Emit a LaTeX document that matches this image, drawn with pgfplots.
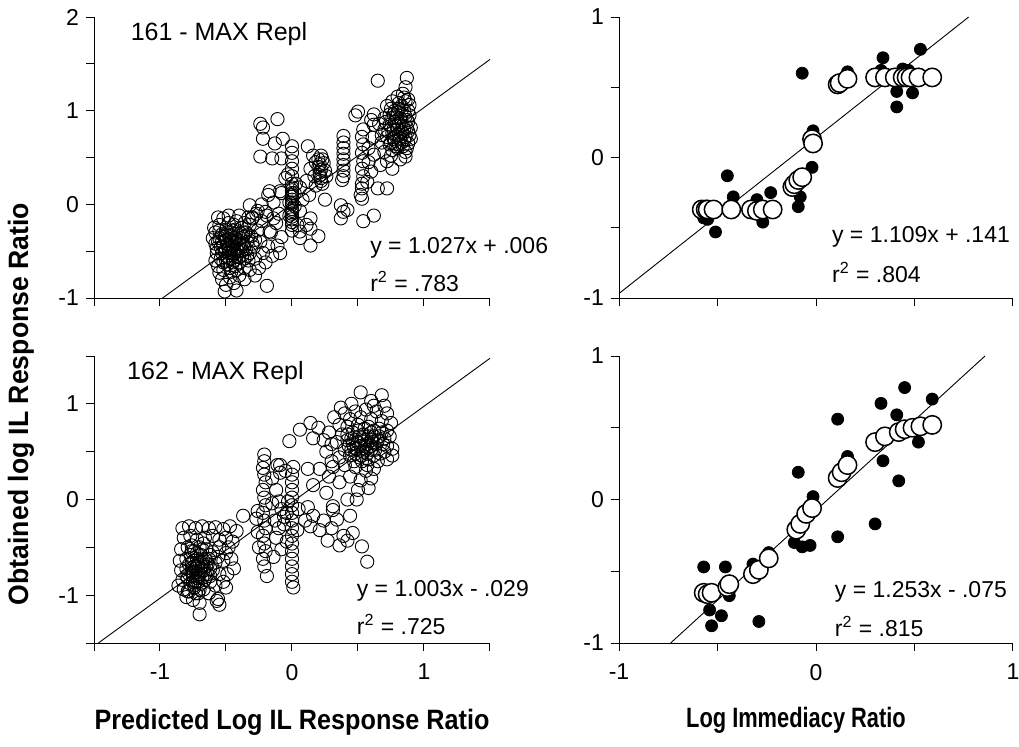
\documentclass[border=0pt]{standalone}
\usepackage{fontspec}
\setmainfont{Liberation Sans}
\usepackage{pgfplots}
\pgfplotsset{compat=1.18}

\newcommand{\ticksize}{\fontsize{11.5}{13}\selectfont}
\newcommand{\titlesize}{\fontsize{12.5}{14}\selectfont}
\newcommand{\lblfont}{\fontsize{14}{16}\selectfont\bfseries}

\pgfplotsset{
  panel/.style={
    scale only axis,
    axis lines*=left,
    axis line style={line width=0.5pt},
    tick align=outside,
    major tick length=4pt,
    tick style={black, line width=0.5pt},
    ticklabel style={font=\ticksize},
    xticklabel style={yshift=-3pt},
    clip=false,
    anchor=north west,
  },
  oc/.style={only marks, mark=o, mark size=3.3pt, mark options={line width=0.45pt, black}},
  fitline/.style={black, line width=0.45pt, no marks},
  dots/.style={only marks, mark=*, mark size=3pt, mark options={fill=black, draw=black}},
  whites/.style={only marks, mark=*, mark size=4.6pt, mark options={fill=white, draw=black, line width=0.75pt}},
}

\begin{document}
\begin{tikzpicture}
\path[use as bounding box] (0,0) rectangle (509.5pt,-373pt);

% ---------- top left: 161 ----------
\begin{axis}[panel, at={(47pt,-8.5pt)}, width=198pt, height=140.5pt,
  xmin=-1.5, xmax=1.5, ymin=-1, ymax=2,
  xtick={-1.5,-1,...,1.5}, xticklabels={},
  ytick={-1,-0.5,...,2}, yticklabels={-1,,0,,1,,2}]
\addplot[oc] coordinates {
(-0.58,-0.30) (-0.55,-0.22) (-0.52,-0.15) (-0.48,-0.20) (-0.45,-0.28) (-0.42,-0.18) (-0.38,-0.25) (-0.35,-0.30) (-0.32,-0.22)
(-0.58,-0.42) (-0.55,-0.36) (-0.52,-0.45) (-0.50,-0.38) (-0.47,-0.33) (-0.45,-0.44) (-0.43,-0.36) (-0.40,-0.42) (-0.37,-0.35)
(-0.34,-0.40) (-0.31,-0.34) (-0.28,-0.38) (-0.57,-0.52) (-0.54,-0.58) (-0.51,-0.50) (-0.49,-0.56) (-0.46,-0.52) (-0.44,-0.60)
(-0.41,-0.50) (-0.38,-0.55) (-0.35,-0.48) (-0.32,-0.52) (-0.29,-0.46) (-0.56,-0.66) (-0.52,-0.70) (-0.49,-0.64) (-0.46,-0.72)
(-0.43,-0.66) (-0.40,-0.62) (-0.36,-0.68) (-0.33,-0.60) (-0.53,-0.80) (-0.50,-0.86) (-0.47,-0.78) (-0.51,-0.93) (-0.44,-0.84)
(-0.40,-0.76) (-0.36,-0.80) (-0.59,-0.25) (-0.57,-0.47) (-0.60,-0.36) (-0.48,-0.47) (-0.43,-0.27) (-0.39,-0.31) (-0.46,-0.40)
(-0.41,-0.45) (-0.53,-0.32) (-0.50,-0.27) (-0.56,-0.40) (-0.54,-0.46) (-0.49,-0.42) (-0.47,-0.58) (-0.44,-0.48) (-0.42,-0.55)
(-0.39,-0.47) (-0.37,-0.42) (-0.36,-0.58) (-0.50,-0.33) (-0.52,-0.62) (-0.55,-0.73) (-0.58,-0.60) (-0.48,-0.12) (-0.56,-0.14)
(-0.40,-0.12) (-0.33,-0.14)
(-0.53,-0.40) (-0.51,-0.35) (-0.49,-0.30) (-0.47,-0.37) (-0.45,-0.33) (-0.43,-0.41) (-0.41,-0.38) (-0.39,-0.36) (-0.37,-0.30)
(-0.36,-0.45) (-0.38,-0.50) (-0.42,-0.48) (-0.46,-0.46) (-0.50,-0.48) (-0.53,-0.52) (-0.48,-0.52) (-0.44,-0.53) (-0.40,-0.56)
(-0.34,-0.55) (-0.30,-0.42) (-0.33,-0.33) (-0.45,-0.62) (-0.50,-0.60) (-0.42,-0.70) (-0.47,-0.68) (-0.55,-0.28) (-0.44,-0.22)
(-0.36,-0.20)
(-0.26,-0.28) (-0.24,-0.40) (-0.22,-0.52) (-0.20,-0.62) (-0.25,-0.68) (-0.18,-0.45) (-0.15,-0.55) (-0.28,-0.58) (-0.19,-0.87)
(-0.23,-0.18) (-0.20,-0.08) (-0.27,-0.10) (-0.30,-0.14) (-0.16,-0.30) (-0.12,-0.20) (-0.08,-0.35) (-0.10,-0.10) (-0.14,0.02)
(-0.23,0.00) (-0.18,0.10) (-0.08,0.12) (-0.05,0.28) (-0.32,-0.01) (-0.26,-0.07) (-0.30,-0.15) (-0.19,-0.12) (-0.14,-0.15)
(-0.17,-0.29) (-0.11,-0.44) (-0.09,-0.52) (-0.17,0.14) (-0.09,0.14) (-0.32,-0.70) (-0.28,-0.76) (-0.42,-0.92)
(0.00,-0.28) (0.00,-0.22) (0.00,-0.16) (0.00,-0.10) (0.00,-0.05) (0.00,0.00) (0.00,0.05) (0.00,0.10) (0.00,0.15) (0.00,0.22)
(0.00,0.30) (0.00,0.38) (0.00,0.46) (0.00,0.55) (-0.02,0.02) (0.02,-0.02) (-0.02,-0.12) (0.02,0.12) (0.03,0.22) (-0.03,0.32)
(0.00,0.62) (0.06,-0.07) (0.14,-0.15) (0.11,-0.22) (0.06,-0.29) (0.20,-0.34) (0.14,-0.44) (0.14,-0.26) (0.04,-0.22)
(0.06,-0.36) (0.08,0.05) (0.06,0.18) (0.00,-0.19) (0.00,-0.13) (0.00,-0.07) (0.00,0.02) (0.00,0.08) (0.00,0.12) (0.00,0.18)
(-0.24,0.86) (-0.22,0.82) (-0.11,0.91) (-0.22,0.70) (-0.13,0.65) (-0.07,0.70) (-0.24,0.51) (-0.15,0.49) (-0.08,0.49)
(0.12,0.62) (0.16,0.52) (0.18,0.45) (0.20,0.40) (0.21,0.34) (0.22,0.28) (0.23,0.22) (0.20,0.48) (0.24,0.44) (0.25,0.36)
(0.17,0.30) (0.14,0.38) (0.11,0.25) (0.26,0.30) (0.22,0.52) (0.18,0.20) (0.13,0.10) (0.25,0.05)
(0.22,0.25) (0.21,0.31) (0.22,0.37) (0.21,0.43) (0.23,0.48)
(0.39,0.73) (0.39,0.66) (0.39,0.60) (0.39,0.54) (0.39,0.48) (0.39,0.42) (0.39,0.36) (0.39,0.30) (0.38,0.26) (0.37,-0.01)
(0.39,-0.08) (0.37,-0.15) (0.42,-0.06)
(0.54,0.80) (0.53,0.72) (0.54,0.64) (0.53,0.55) (0.54,0.46) (0.53,0.38) (0.54,0.30) (0.53,0.22) (0.53,0.17) (0.53,0.06)
(0.52,0.10) (0.57,0.24) (0.65,0.17) (0.72,0.17) (0.54,-0.18) (0.62,-0.12) (0.50,0.99) (0.48,0.95) (0.60,0.90) (0.62,0.96)
(0.62,0.85) (0.61,0.71) (0.62,0.53) (0.58,0.60) (0.58,0.45) (0.60,0.35)
(0.65,1.32) (0.87,1.35) (0.86,1.25) (0.84,1.18) (0.80,1.15) (0.76,1.10) (0.72,1.05) (0.86,1.10) (0.83,1.05) (0.88,1.00)
(0.78,1.00) (0.74,0.96) (0.70,0.92) (0.86,0.94) (0.82,0.92) (0.88,0.88) (0.78,0.88) (0.74,0.85) (0.70,0.80) (0.84,0.84)
(0.80,0.80) (0.88,0.78) (0.76,0.76) (0.72,0.72) (0.86,0.72) (0.82,0.70) (0.78,0.68) (0.74,0.64) (0.68,0.66) (0.88,0.65)
(0.84,0.62) (0.80,0.60) (0.76,0.58) (0.70,0.56) (0.86,0.56) (0.75,0.52) (0.67,0.42) (0.76,0.38) (0.86,0.51) (0.82,0.48)
(0.72,0.46) (0.80,0.98) (0.84,0.76) (0.76,0.92) (0.88,1.12) (0.68,0.74) (0.66,0.86) (0.90,0.82) (0.90,0.70) (0.79,0.72)
(0.83,0.88) (0.81,0.64)
(0.77,0.96) (0.81,1.02) (0.85,1.00) (0.89,0.95) (0.79,0.93) (0.83,0.96) (0.87,0.90) (0.81,0.86) (0.85,0.80) (0.79,0.84)
(0.77,0.80) (0.83,0.78) (0.87,0.82) (0.81,0.74) (0.85,0.68) (0.77,0.70) (0.89,0.74) (0.83,0.66) (0.79,0.62) (0.87,0.60)
(0.75,0.66) (0.73,0.78) (0.71,0.88) (0.89,1.06) (0.85,1.14) (0.81,1.08) (0.75,1.02)
};
\addplot[fitline] coordinates {(-0.980,-1.000) (1.500,1.547)};
\node[anchor=west, font=\titlesize] at (rel axis cs:0.075,0.94) {161 - MAX Repl};
\node[anchor=west, font=\ticksize] at (rel axis cs:0.68,0.178) {y = 1.027x + .006};
\node[anchor=west, font=\ticksize] at (rel axis cs:0.68,0.058) {r\textsuperscript{2} = .783};
\end{axis}

% ---------- bottom left: 162 ----------
\begin{axis}[panel, at={(47pt,-178pt)}, width=198pt, height=143.5pt,
  xmin=-1.5, xmax=1.5, ymin=-1.5, ymax=1.5,
  xtick={-1.5,-1,...,1.5}, xticklabels={,-1,,0,,1,},
  ytick={-1.5,-1,...,1.5}, yticklabels={,-1,,0,,1,}]
\addplot[oc] coordinates {
(-0.83,-0.30) (-0.78,-0.28) (-0.73,-0.30) (-0.68,-0.28) (-0.63,-0.30) (-0.58,-0.29) (-0.52,-0.31) (-0.47,-0.28) (-0.42,-0.33)
(-0.82,-0.40) (-0.77,-0.38) (-0.72,-0.42) (-0.66,-0.40) (-0.60,-0.38) (-0.55,-0.42) (-0.50,-0.40) (-0.45,-0.44)
(-0.84,-0.52) (-0.79,-0.50) (-0.74,-0.54) (-0.70,-0.50) (-0.65,-0.52) (-0.60,-0.55) (-0.55,-0.50) (-0.50,-0.56)
(-0.85,-0.64) (-0.80,-0.62) (-0.76,-0.66) (-0.72,-0.62) (-0.68,-0.66) (-0.63,-0.62) (-0.58,-0.66) (-0.52,-0.64) (-0.46,-0.62)
(-0.84,-0.74) (-0.80,-0.72) (-0.76,-0.76) (-0.73,-0.72) (-0.70,-0.78) (-0.67,-0.74) (-0.64,-0.78) (-0.60,-0.74) (-0.55,-0.78)
(-0.83,-0.84) (-0.79,-0.82) (-0.75,-0.86) (-0.72,-0.82) (-0.69,-0.88) (-0.66,-0.84) (-0.62,-0.86) (-0.58,-0.90) (-0.52,-0.86)
(-0.82,-0.94) (-0.78,-0.96) (-0.74,-0.92) (-0.71,-0.98) (-0.67,-0.94) (-0.63,-0.98) (-0.80,-1.02) (-0.75,-1.05) (-0.70,-1.08)
(-0.70,-1.20) (-0.57,-1.06) (-0.55,-1.10) (-0.56,-1.04) (-0.74,-0.70) (-0.71,-0.68) (-0.69,-0.58) (-0.77,-0.58) (-0.73,-0.86)
(-0.78,-0.78) (-0.65,-0.70) (-0.62,-0.58) (-0.56,-0.60) (-0.48,-0.50) (-0.44,-0.72) (-0.49,-0.78) (-0.50,-0.92) (-0.86,-0.90)
(-0.76,-0.48) (-0.67,-0.46)
(-0.75,-0.80) (-0.73,-0.76) (-0.71,-0.80) (-0.69,-0.74) (-0.72,-0.70) (-0.74,-0.64) (-0.70,-0.66) (-0.68,-0.70) (-0.76,-0.72)
(-0.78,-0.68) (-0.74,-0.90) (-0.71,-0.86) (-0.68,-0.82) (-0.66,-0.78) (-0.70,-0.94) (-0.77,-0.88) (-0.80,-0.80) (-0.64,-0.68)
(-0.62,-0.72) (-0.66,-0.62) (-0.72,-0.56) (-0.68,-0.52) (-0.76,-0.54) (-0.62,-0.80) (-0.79,-0.96) (-0.73,-0.98)
(-0.21,0.47) (-0.21,0.40) (-0.22,0.33) (-0.21,0.26) (-0.20,0.18) (-0.22,0.10) (-0.21,0.02) (-0.20,-0.06) (-0.22,-0.14)
(-0.21,-0.22) (-0.20,-0.30) (-0.22,-0.38) (-0.21,-0.46) (-0.20,-0.54) (-0.22,-0.62) (-0.21,-0.70) (-0.19,-0.80) (-0.26,-0.12)
(-0.27,-0.20) (-0.26,-0.34) (-0.25,-0.50)
(0.00,0.26) (0.00,0.18) (0.00,0.10) (0.00,0.02) (0.00,-0.06) (0.00,-0.14) (0.00,-0.22) (0.00,-0.30) (0.00,-0.38) (0.00,-0.46)
(0.00,-0.54) (0.00,-0.62) (0.00,-0.70) (0.00,-0.78) (0.00,-0.86) (0.01,-0.92)
(-0.15,0.22) (-0.12,0.10) (-0.10,-0.02) (-0.08,-0.10) (-0.06,-0.18) (-0.13,-0.22) (-0.10,-0.30) (-0.06,-0.26) (-0.04,-0.14)
(-0.15,-0.04) (-0.12,-0.40) (-0.09,0.28) (-0.05,0.30) (-0.14,-0.60) (-0.08,-0.52) (-0.04,-0.44) (-0.37,-0.17) (-0.11,0.36)
(-0.03,-0.02) (0.04,-0.32) (0.05,-0.10)
(0.14,-0.28) (0.21,-0.32) (0.27,-0.43) (0.39,-0.38) (0.42,-0.43) (0.46,-0.35) (0.53,-0.49) (0.57,-0.65) (0.16,-0.17)
(0.31,-0.11) (0.34,-0.21) (0.44,-0.17) (0.10,-0.22) (0.24,-0.22) (0.30,-0.30) (0.36,-0.48) (0.12,-0.08)
(0.52,1.12) (0.68,1.09) (0.37,0.96) (0.60,1.03) (0.14,0.80) (0.20,0.75) (0.06,0.73) (0.16,0.64) (-0.02,0.61) (-0.09,0.36)
(0.01,0.34) (0.12,0.32) (0.21,0.32) (0.31,0.34) (0.16,0.15) (0.26,0.07) (0.31,-0.07) (0.42,0.00) (0.49,0.00) (0.76,0.53)
(0.75,0.80)
(0.40,0.90) (0.48,0.92) (0.56,0.94) (0.64,0.92) (0.72,0.90) (0.44,0.84) (0.52,0.86) (0.60,0.84) (0.68,0.82) (0.36,0.78)
(0.42,0.76) (0.50,0.78) (0.58,0.76) (0.66,0.74) (0.72,0.72) (0.38,0.68) (0.46,0.70) (0.54,0.68) (0.62,0.66) (0.70,0.64)
(0.34,0.60) (0.42,0.62) (0.50,0.60) (0.57,0.58) (0.64,0.58) (0.72,0.56) (0.40,0.52) (0.47,0.54) (0.54,0.50) (0.60,0.52)
(0.67,0.48) (0.36,0.44) (0.44,0.46) (0.51,0.44) (0.58,0.42) (0.65,0.40) (0.72,0.42) (0.30,0.40) (0.40,0.36) (0.48,0.34)
(0.56,0.30) (0.62,0.32) (0.44,0.24) (0.52,0.20) (0.60,0.22) (0.28,0.24) (0.36,0.18) (0.50,0.10) (0.58,0.12) (0.46,0.58)
(0.53,0.64) (0.49,0.53) (0.55,0.56) (0.43,0.56) (0.26,0.50) (0.30,0.58) (0.24,0.62) (0.66,0.66) (0.70,0.98) (0.62,0.98)
(0.45,1.00) (0.32,0.86) (0.28,0.70) (0.60,0.62) (0.62,0.46) (0.69,0.58) (0.74,0.66) (0.76,0.46)
(0.45,0.64) (0.48,0.62) (0.51,0.66) (0.55,0.62) (0.58,0.66) (0.61,0.60) (0.52,0.56) (0.56,0.52) (0.48,0.48) (0.53,0.46)
(0.57,0.48) (0.60,0.56) (0.63,0.52) (0.50,0.72) (0.55,0.74) (0.60,0.70) (0.45,0.52) (0.42,0.68) (0.65,0.62) (0.53,0.40)
(0.47,0.40) (0.57,0.36) (0.62,0.72) (0.68,0.70) (0.70,0.50)
};
\addplot[fitline] coordinates {(-1.467,-1.500) (1.500,1.476)};
\node[anchor=west, font=\titlesize] at (rel axis cs:0.066,0.94) {162 - MAX Repl};
\node[anchor=west, font=\ticksize] at (rel axis cs:0.646,0.18) {y = 1.003x - .029};
\node[anchor=west, font=\ticksize] at (rel axis cs:0.646,0.065) {r\textsuperscript{2} = .725};
\end{axis}

% ---------- top right ----------
\begin{axis}[panel, at={(309.5pt,-8.5pt)}, width=197pt, height=140.5pt,
  xmin=-1, xmax=1, ymin=-1, ymax=1,
  xtick={-1,-0.5,...,1}, xticklabels={},
  ytick={-1,-0.5,...,1}, yticklabels={-1,,0,,1}]
\addplot[dots] coordinates {
(-0.45,-0.13) (-0.42,-0.28) (-0.57,-0.43) (-0.55,-0.44) (-0.51,-0.53) (-0.30,-0.30) (-0.27,-0.46) (-0.23,-0.25)
(-0.09,-0.35) (-0.08,-0.28) (-0.02,-0.07) (-0.07,0.60) (-0.015,0.19) (0.16,0.61) (0.34,0.71) (0.41,0.47) (0.41,0.36)
(0.49,0.46) (0.53,0.77) (0.44,0.63) (0.33,0.62) (0.47,0.62)
};
\addplot[fitline] coordinates {(-1.000,-0.968) (0.775,1.000)};
\addplot[whites] coordinates {
(-0.58,-0.37) (-0.56,-0.37) (-0.55,-0.37) (-0.52,-0.37) (-0.43,-0.37) (-0.33,-0.37) (-0.30,-0.38) (-0.27,-0.37)
(-0.22,-0.37) (-0.12,-0.21) (-0.11,-0.19) (-0.09,-0.16) (-0.07,-0.14) (-0.02,0.13) (-0.015,0.10) (0.11,0.52)
(0.12,0.53) (0.16,0.56) (0.30,0.57) (0.35,0.57) (0.40,0.57) (0.44,0.57) (0.46,0.57) (0.48,0.57) (0.52,0.57) (0.59,0.57)
};
\node[anchor=west, font=\ticksize] at (rel axis cs:0.523,0.217) {y = 1.109x + .141};
\node[anchor=west, font=\ticksize] at (rel axis cs:0.523,0.09) {r\textsuperscript{2} = .804};
\end{axis}

% ---------- bottom right ----------
\begin{axis}[panel, at={(309.5pt,-178pt)}, width=197pt, height=143.5pt,
  xmin=-1, xmax=1, ymin=-1, ymax=1,
  xtick={-1,-0.5,...,1}, xticklabels={-1,,0,,1},
  ytick={-1,-0.5,...,1}, yticklabels={-1,,0,,1}]
\addplot[dots] coordinates {
(-0.57,-0.47) (-0.46,-0.47) (-0.32,-0.45) (-0.24,-0.37) (-0.54,-0.77) (-0.48,-0.81) (-0.53,-0.88) (-0.29,-0.85)
(-0.44,-0.67) (-0.09,0.19) (-0.015,0.02) (-0.11,-0.30) (-0.07,-0.33) (-0.03,-0.32) (0.11,-0.26) (0.11,0.56)
(0.16,0.30) (0.30,-0.17) (0.34,0.27) (0.33,0.67) (0.41,0.59) (0.45,0.78) (0.42,0.13) (0.52,0.40) (0.59,0.70)
};
\addplot[fitline] coordinates {(-0.738,-1.000) (0.858,1.000)};
\addplot[whites] coordinates {
(-0.57,-0.65) (-0.55,-0.66) (-0.53,-0.65) (-0.45,-0.61) (-0.44,-0.59) (-0.32,-0.52) (-0.29,-0.49) (-0.24,-0.41)
(-0.10,-0.21) (-0.08,-0.17) (-0.05,-0.10) (-0.02,-0.06) (0.11,0.15) (0.13,0.19) (0.16,0.24) (0.30,0.40) (0.35,0.44)
(0.42,0.47) (0.45,0.49) (0.49,0.50) (0.53,0.51) (0.59,0.52)
};
\node[anchor=west, font=\ticksize] at (rel axis cs:0.53,0.178) {y = 1.253x - .075};
\node[anchor=west, font=\ticksize] at (rel axis cs:0.53,0.058) {r\textsuperscript{2} = .815};
\end{axis}

% ---------- axis titles ----------
\node[font=\lblfont] at (146pt,-361pt) {\scalebox{0.9}[1]{Predicted Log IL Response Ratio}};
\node[font=\lblfont] at (398pt,-360pt) {\scalebox{0.78}[1]{Log Immediacy Ratio}};
\node[font=\lblfont, rotate=90] at (10.5pt,-202pt) {\scalebox{0.95}[1]{Obtained log IL Response Ratio}};
\end{tikzpicture}
\end{document}
